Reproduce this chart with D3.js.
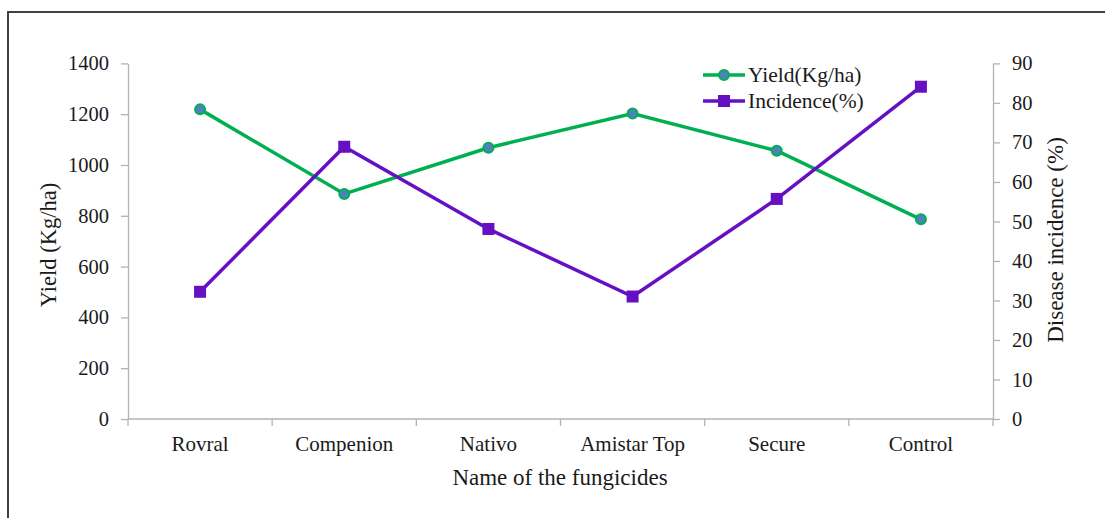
<!DOCTYPE html>
<html>
<head>
<meta charset="utf-8">
<script src="https://cdn.jsdelivr.net/npm/d3@7"></script>
<style>
  body { margin: 0; background: #fff; }
  svg text { font-family: "Liberation Serif", "Times New Roman", serif; fill: #1a1a1a; }
</style>
</head>
<body>
<div id="chart"></div>
<script>
var categories = ["Rovral", "Compenion", "Nativo", "Amistar Top", "Secure", "Control"];
var yieldValues = [1219, 886, 1068, 1203, 1056, 786];
var incidenceValues = [32.2, 68.9, 48.1, 31.0, 55.7, 84.1];
var yieldTicks = [0, 200, 400, 600, 800, 1000, 1200, 1400];
var incidenceTicks = [0, 10, 20, 30, 40, 50, 60, 70, 80, 90];

(function () {
  var width = 1105, height = 518;
  var plotLeft = 128, plotRight = 993, plotTop = 63.4, plotBottom = 419;
  var green = "#00b050", purple = "#6610c4", markerBlue = "#4f81bd", axisGray = "#b3b3b3";

  var svg = d3.select("#chart").append("svg")
      .attr("width", width).attr("height", height);

  // outer frame (runs off the page on the right and bottom)
  svg.append("rect")
      .attr("x", 8).attr("y", 12)
      .attr("width", 1200).attr("height", 600)
      .attr("fill", "none").attr("stroke", "#404040").attr("stroke-width", 2);

  var x = d3.scaleBand().domain(categories).range([plotLeft, plotRight]);
  var yL = d3.scaleLinear().domain([0, 1400]).range([plotBottom, plotTop]);
  var yR = d3.scaleLinear().domain([0, 90]).range([plotBottom, plotTop]);

  function styleAxis(g) {
    g.selectAll("path, line").attr("stroke", axisGray).attr("stroke-width", 1.3);
    g.selectAll("text").style("font-size", "20.5px").attr("fill", "#1a1a1a");
  }

  svg.append("g").attr("transform", "translate(" + plotLeft + ",0)")
      .call(d3.axisLeft(yL).tickValues(yieldTicks).tickFormat(d3.format("d"))
        .tickSize(7).tickSizeOuter(0).tickPadding(12))
      .call(styleAxis);

  svg.append("g").attr("transform", "translate(" + plotRight + ",0)")
      .call(d3.axisRight(yR).tickValues(incidenceTicks).tickFormat(d3.format("d"))
        .tickSize(7).tickSizeOuter(0).tickPadding(12))
      .call(styleAxis);

  // bottom axis with ticks between categories
  var xAxis = svg.append("g").attr("transform", "translate(0," + plotBottom + ")");
  xAxis.append("line").attr("x1", plotLeft).attr("x2", plotRight)
      .attr("stroke", axisGray).attr("stroke-width", 1.3);
  var bounds = categories.map(function (c) { return x(c); }).concat([plotRight]);
  xAxis.selectAll("line.tk").data(bounds).enter().append("line")
      .attr("class", "tk")
      .attr("x1", function (d) { return d; }).attr("x2", function (d) { return d; })
      .attr("y1", 0).attr("y2", 7)
      .attr("stroke", axisGray).attr("stroke-width", 1.3);
  xAxis.selectAll("text").data(categories).enter().append("text")
      .attr("x", function (d) { return x(d) + x.bandwidth() / 2; })
      .attr("y", 32)
      .attr("text-anchor", "middle")
      .style("font-size", "21px")
      .text(function (d) { return d; });

  // axis titles
  svg.append("text")
      .attr("transform", "translate(56,245) rotate(-90)")
      .attr("text-anchor", "middle").style("font-size", "22.5px")
      .text("Yield (Kg/ha)");
  svg.append("text")
      .attr("transform", "translate(1063,240) rotate(-90)")
      .attr("text-anchor", "middle").style("font-size", "23px")
      .text("Disease incidence (%)");
  svg.append("text")
      .attr("x", 560).attr("y", 485)
      .attr("text-anchor", "middle").style("font-size", "23px")
      .text("Name of the fungicides");

  var cx = function (d, i) { return x(categories[i]) + x.bandwidth() / 2; };

  // yield line
  svg.append("path")
      .datum(yieldValues)
      .attr("fill", "none").attr("stroke", green).attr("stroke-width", 3.5)
      .attr("d", d3.line().x(cx).y(function (d) { return yL(d); }));

  // incidence line
  svg.append("path")
      .datum(incidenceValues)
      .attr("fill", "none").attr("stroke", purple).attr("stroke-width", 3.5)
      .attr("d", d3.line().x(cx).y(function (d) { return yR(d); }));

  svg.selectAll("circle.yield").data(yieldValues).enter().append("circle")
      .attr("class", "yield")
      .attr("cx", cx).attr("cy", function (d) { return yL(d); })
      .attr("r", 5).attr("fill", markerBlue).attr("stroke", green).attr("stroke-width", 2);

  svg.selectAll("rect.inc").data(incidenceValues).enter().append("rect")
      .attr("class", "inc")
      .attr("x", function (d, i) { return cx(d, i) - 6; })
      .attr("y", function (d) { return yR(d) - 6; })
      .attr("width", 12).attr("height", 12)
      .attr("fill", purple);

  // legend
  var legend = [
    { name: "Yield(Kg/ha)", color: green, marker: "circle" },
    { name: "Incidence(%)", color: purple, marker: "square" }
  ];
  var lg = svg.selectAll("g.leg").data(legend).enter().append("g")
      .attr("class", "leg")
      .attr("transform", function (d, i) { return "translate(703," + (75 + i * 26) + ")"; });
  lg.append("line").attr("x1", 0).attr("x2", 42)
      .attr("stroke", function (d) { return d.color; }).attr("stroke-width", 3.5);
  lg.each(function (d) {
    var g = d3.select(this);
    if (d.marker === "circle") {
      g.append("circle").attr("cx", 21).attr("r", 5)
          .attr("fill", markerBlue).attr("stroke", green).attr("stroke-width", 2);
    } else {
      g.append("rect").attr("x", 15).attr("y", -6).attr("width", 12).attr("height", 12)
          .attr("fill", purple);
    }
  });
  lg.append("text").attr("x", 45).attr("y", 7)
      .style("font-size", "21.5px")
      .text(function (d) { return d.name; });
})();
</script>
</body>
</html>
